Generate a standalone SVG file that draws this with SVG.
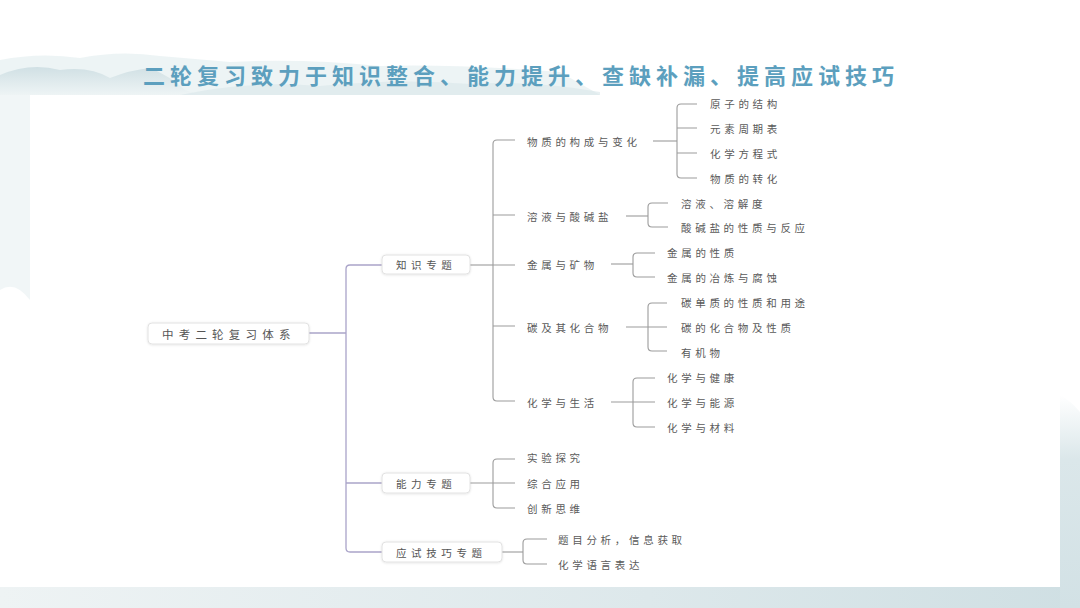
<svg xmlns="http://www.w3.org/2000/svg" width="1080" height="608" viewBox="0 0 1080 608">
<defs>
<style>
.t{font-family:"Noto Sans CJK SC","Noto Sans",sans-serif;font-size:10.5px;fill:#5a5a5a;letter-spacing:3.7px;dominant-baseline:central}
.nt{font-family:"Noto Sans CJK SC","Noto Sans",sans-serif;font-size:10.5px;fill:#555;letter-spacing:4.6px;dominant-baseline:central}
.box{fill:#fff;stroke:#e2e2e2;stroke-width:1}
.c{fill:none;stroke:#9c9c9c;stroke-width:1.1}
.p{fill:none;stroke:#aaa4c9;stroke-width:1.3}
</style>
<linearGradient id="mtn" x1="0" y1="0" x2="0" y2="1">
<stop offset="0" stop-color="#c9dbe0"/>
<stop offset="1" stop-color="#eef4f5"/>
</linearGradient>
<linearGradient id="bot" x1="0" y1="0" x2="1" y2="0">
<stop offset="0" stop-color="#eef3f4"/>
<stop offset="0.6" stop-color="#dde8eb"/>
<stop offset="1" stop-color="#cfdfe3"/>
</linearGradient>
<linearGradient id="rgt" x1="0" y1="0" x2="0" y2="1">
<stop offset="0" stop-color="#ffffff"/>
<stop offset="0.3" stop-color="#dbe7ea"/>
<stop offset="1" stop-color="#d2e1e5"/>
</linearGradient>
<filter id="sh" x="-10%" y="-30%" width="120%" height="160%">
<feDropShadow dx="0" dy="0.5" stdDeviation="0.8" flood-color="#000" flood-opacity="0.12"/>
</filter>
</defs>
<rect width="1080" height="608" fill="#ffffff"/>
<g id="background">
<path d="M0 60 Q40 52 80 58 Q120 50 160 56 L230 62 Q300 58 380 66 Q460 64 560 72 L600 95 L0 95 Z" fill="#e9f1f3" opacity="0.8"/>
<path d="M0 75 Q30 62 60 70 Q90 66 110 78 Q130 70 150 68 Q170 76 185 90 L200 95 L0 95 Z" fill="url(#mtn)" opacity="0.8"/>
<path d="M180 95 Q250 80 320 86 Q400 78 470 84 Q530 80 600 92 L600 95 Z" fill="#d8e6ea" opacity="0.6"/>
<path d="M0 95 L30 95 L30 300 Q15 280 0 290 Z" fill="#f1f6f7"/>
<rect x="0" y="587" width="1080" height="21" fill="url(#bot)"/>
<path d="M1060 395 Q1070 400 1080 412 L1080 608 L1060 608 Z" fill="url(#rgt)"/>
</g>
<rect id="panel" x="30" y="95" width="1030" height="492" fill="#ffffff"/>
<text id="title" x="143" y="74" font-family="'Noto Sans CJK SC','Noto Sans',sans-serif" font-size="22" font-weight="700" fill="#5c9fbe" letter-spacing="5" dominant-baseline="central">二轮复习致力于知识整合、能力提升、查缺补漏、提高应试技巧</text>
<g id="connectors">
<path class="p" d="M309 333 H346"/>
<path class="p" d="M382 265 H350 Q346 265 346 269 V548 Q346 552 350 552 H382"/>
<path class="p" d="M346 483 H382"/>
<path class="c" d="M470 265 H493"/>
<path class="c" d="M515 140 H497 Q493 140 493 144 V397 Q493 401 497 401 H515"/>
<path class="c" d="M493 215 H515 M493 265 H515 M493 326 H515"/>
<path class="c" d="M653 141 H677"/>
<path class="c" d="M697 104 H681 Q677 104 677 108 V174 Q677 178 681 178 H697"/>
<path class="c" d="M677 128 H697 M677 153 H697"/>
<path class="c" d="M626 216 H648"/>
<path class="c" d="M668 203 H652 Q648 203 648 207 V223 Q648 227 652 227 H668"/>
<path class="c" d="M611 264 H633"/>
<path class="c" d="M655 253 H637 Q633 253 633 257 V273 Q633 277 637 277 H655"/>
<path class="c" d="M626 327 H667"/>
<path class="c" d="M667 303 H652 Q648 303 648 307 V347 Q648 351 652 351 H667"/>
<path class="c" d="M611 402 H655"/>
<path class="c" d="M655 378 H637 Q633 378 633 382 V423 Q633 427 637 427 H655"/>
<path class="c" d="M470 483 H515"/>
<path class="c" d="M515 459 H497 Q493 459 493 463 V504 Q493 508 497 508 H515"/>
<path class="c" d="M502 552 H523"/>
<path class="c" d="M547 539 H527 Q523 539 523 543 V560 Q523 564 527 564 H547"/>
</g>
<g id="root">
<rect class="box" x="148" y="323" width="161" height="21" rx="4" filter="url(#sh)"/>
<text class="nt" x="162" y="333.5" style="font-size:11.5px;letter-spacing:5.2px">中考二轮复习体系</text>
</g>
<g id="n-zhishi">
<rect class="box" x="382" y="255" width="88" height="19" rx="4" filter="url(#sh)"/>
<text class="nt" x="396" y="264.5">知识专题</text>
</g>
<g id="n-nengli">
<rect class="box" x="382" y="473" width="88" height="20" rx="4" filter="url(#sh)"/>
<text class="nt" x="396" y="483">能力专题</text>
</g>
<g id="n-yingshi">
<rect class="box" x="382" y="542" width="120" height="20" rx="4" filter="url(#sh)"/>
<text class="nt" x="396" y="552">应试技巧专题</text>
</g>
<g id="l2">
<text class="t" x="527" y="141">物质的构成与变化</text>
<text class="t" x="527" y="216">溶液与酸碱盐</text>
<text class="t" x="527" y="264">金属与矿物</text>
<text class="t" x="527" y="327">碳及其化合物</text>
<text class="t" x="527" y="402">化学与生活</text>
</g>
<g id="l3-wuzhi">
<text class="t" x="710" y="103">原子的结构</text>
<text class="t" x="710" y="128">元素周期表</text>
<text class="t" x="710" y="153">化学方程式</text>
<text class="t" x="710" y="178">物质的转化</text>
</g>
<g id="l3-rongye">
<text class="t" x="681" y="203">溶液、溶解度</text>
<text class="t" x="681" y="227">酸碱盐的性质与反应</text>
</g>
<g id="l3-jinshu">
<text class="t" x="667" y="252">金属的性质</text>
<text class="t" x="667" y="277">金属的冶炼与腐蚀</text>
</g>
<g id="l3-tan">
<text class="t" x="681" y="302">碳单质的性质和用途</text>
<text class="t" x="681" y="327">碳的化合物及性质</text>
<text class="t" x="681" y="352">有机物</text>
</g>
<g id="l3-shenghuo">
<text class="t" x="667" y="377">化学与健康</text>
<text class="t" x="667" y="402">化学与能源</text>
<text class="t" x="667" y="427">化学与材料</text>
</g>
<g id="l2-nengli">
<text class="t" x="527" y="457">实验探究</text>
<text class="t" x="527" y="483">综合应用</text>
<text class="t" x="527" y="508">创新思维</text>
</g>
<g id="l2-yingshi">
<text class="t" x="558" y="539">题目分析，信息获取</text>
<text class="t" x="558" y="564">化学语言表达</text>
</g>
</svg>
